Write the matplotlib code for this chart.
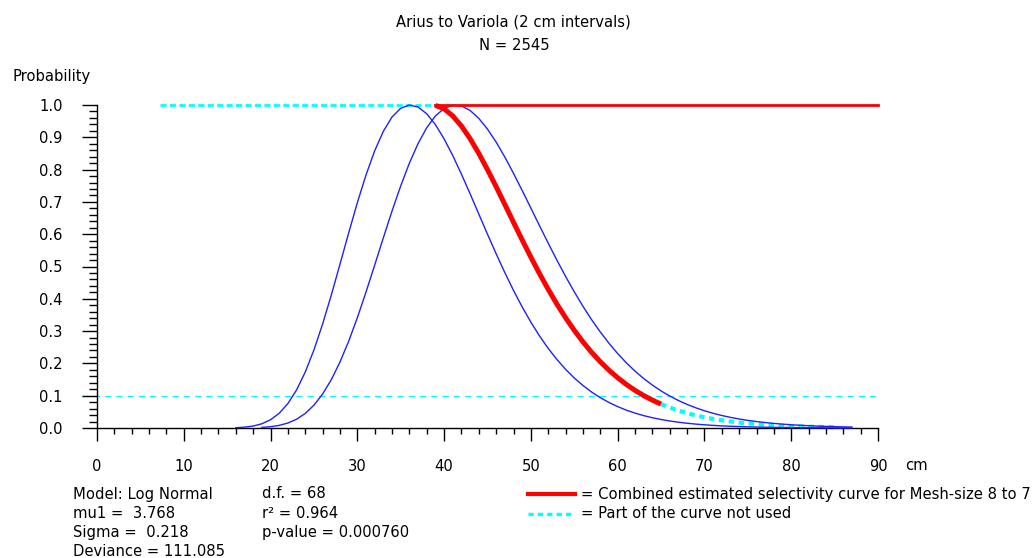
import matplotlib
matplotlib.use("Agg")
import matplotlib.pyplot as plt
from matplotlib.lines import Line2D
from matplotlib.ticker import MultipleLocator

plt.rcParams["font.family"] = ["DejaVu Sans"]

# mesh-size 7 curve (left bell), lengths 16..87 cm
mesh7_x = list(range(16, 88))
mesh7_y = [0.0009, 0.0026, 0.0061, 0.0131, 0.0255, 0.0456, 0.0757, 0.1179, 0.1733,
           0.2417, 0.3220, 0.4115, 0.5070, 0.6038, 0.6974, 0.7834, 0.8581, 0.9187,
           0.9630, 0.9899, 0.9999, 0.9937, 0.9727, 0.9391, 0.8951, 0.8432, 0.7857,
           0.7248, 0.6623, 0.5999, 0.5392, 0.4809, 0.4257, 0.3746, 0.3276, 0.2848,
           0.2463, 0.2120, 0.1816, 0.1549, 0.1316, 0.1113, 0.0939, 0.0790, 0.0662,
           0.0553, 0.0461, 0.0383, 0.0318, 0.0263, 0.0217, 0.0179, 0.0147, 0.0121,
           0.0099, 0.0081, 0.0066, 0.0054, 0.0044, 0.0036, 0.0029, 0.0024, 0.0019,
           0.0016, 0.0013, 0.0010, 0.0008, 0.0007, 0.0006, 0.0004, 0.0004, 0.0003]

# mesh-size 8 curve (right bell), lengths 19..87 cm
mesh8_x = list(range(19, 88))
mesh8_y = [0.0018, 0.0040, 0.0081, 0.0154, 0.0272, 0.0451, 0.0707, 0.1052, 0.1496,
           0.2042, 0.2685, 0.3414, 0.4209, 0.5042, 0.5890, 0.6719, 0.7496, 0.8201,
           0.8806, 0.9298, 0.9662, 0.9893, 0.9995, 0.9970, 0.9830, 0.9586, 0.9253,
           0.8849, 0.8387, 0.7882, 0.7352, 0.6807, 0.6260, 0.5721, 0.5195, 0.4692,
           0.4216, 0.3768, 0.3352, 0.2972, 0.2622, 0.2305, 0.2017, 0.1761, 0.1532,
           0.1328, 0.1148, 0.0990, 0.0851, 0.0730, 0.0625, 0.0534, 0.0455, 0.0387,
           0.0329, 0.0279, 0.0236, 0.0200, 0.0169, 0.0142, 0.0120, 0.0100, 0.0085,
           0.0071, 0.0059, 0.0050, 0.0042, 0.0035, 0.0029]

# combined selectivity curve, used part (39..65 cm)
combined_x = list(range(39, 66))
combined_y = [0.999, 0.9882, 0.966, 0.9348, 0.8955, 0.85, 0.7998, 0.7468, 0.692,
              0.6366, 0.582, 0.5288, 0.4776, 0.4292, 0.3836, 0.3413, 0.3023, 0.2666,
              0.2341, 0.2051, 0.1789, 0.1556, 0.1348, 0.1165, 0.1004, 0.0863, 0.074]
combined_flat_x = [39, 90]
combined_flat_y = [1.0, 1.0]

# combined selectivity curve, part not used
unused_tail_x = list(range(65, 86))
unused_tail_y = [0.074, 0.0633, 0.054, 0.046, 0.0391, 0.0332, 0.0281, 0.0238, 0.0201,
                 0.0169, 0.0143, 0.012, 0.0101, 0.0084, 0.0071, 0.0059, 0.005, 0.0041,
                 0.0035, 0.0029, 0.0024]
unused_top_x = [7.3, 39]
unused_top_y = [1.0, 1.0]

# 10 % reference line
ref_x = [-1.7, 90]
ref_y = [0.1, 0.1]

x_ticks = list(range(0, 91, 10))
y_ticks = [0.0, 0.1, 0.2, 0.3, 0.4, 0.5, 0.6, 0.7, 0.8, 0.9, 1.0]

W, H = 1034, 558
fig = plt.figure(figsize=(W / 100, H / 100), dpi=100)
ax = fig.add_axes([97 / W, 1 - 428 / H, (878 - 97) / W, (428 - 105) / H])

CYAN = "#00FFFF"
BLUE = "#2020FF"
RED = "#FF0000"

ax.plot(ref_x, ref_y, color=CYAN, lw=0.9, dashes=(5, 4), clip_on=False, zorder=1)
ax.plot(unused_top_x, unused_top_y, color=CYAN, lw=2.0, dashes=(2.2, 1.2),
        clip_on=False, zorder=2)
ax.plot(mesh7_x, mesh7_y, color=BLUE, lw=1.0, clip_on=False, zorder=3)
ax.plot(mesh8_x, mesh8_y, color=BLUE, lw=1.0, clip_on=False, zorder=3)
ax.plot(combined_flat_x, combined_flat_y, color=RED, lw=2.0, clip_on=False, zorder=4)
ax.plot(combined_x, combined_y, color=RED, lw=3.6, clip_on=False, zorder=4,
        solid_capstyle="butt")
ax.plot(unused_tail_x, unused_tail_y, color=CYAN, lw=3.0, dashes=(1.3, 1.1),
        clip_on=False, zorder=2)

ax.set_xlim(0, 90)
ax.set_ylim(0, 1)
ax.set_xticks(x_ticks)
ax.set_yticks(y_ticks)
ax.set_yticklabels([f"{v:.1f}" for v in y_ticks])
ax.xaxis.set_minor_locator(MultipleLocator(2))
ax.yaxis.set_minor_locator(MultipleLocator(0.02))

for side in ("top", "right"):
    ax.spines[side].set_visible(False)
for side in ("left", "bottom"):
    ax.spines[side].set_linewidth(1.0)
    ax.spines[side].set_color("black")

fs = 10.6
ax.tick_params(axis="x", which="major", direction="out", length=9.5, width=1.0,
               pad=12.5, labelsize=fs)
ax.tick_params(axis="x", which="minor", direction="out", length=4.5, width=1.0)
ax.tick_params(axis="y", which="major", direction="out", length=10.8, width=1.0,
               pad=14, labelsize=fs)
ax.tick_params(axis="y", which="minor", direction="out", length=6, width=1.0)


def ftext(x, y, s, **kw):
    fig.text(x / W, 1 - y / H, s, fontsize=fs, va="center", **kw)


ftext(513, 22, "Arius to Variola (2 cm intervals)", ha="center")
ftext(514, 46, "N = 2545", ha="center")
ftext(12, 77, "Probability", ha="left")
ftext(905, 465, "cm", ha="left")

left_col = ["Model: Log Normal", "mu1 =  3.768", "Sigma =  0.218", "Deviance = 111.085"]
right_col = ["d.f. = 68", "r\u00b2 = 0.964", "p-value = 0.000760"]
rows_y = [494, 514, 533, 552]
for s, y in zip(left_col, rows_y):
    ftext(73, y, s, ha="left")
for s, y in zip(right_col, rows_y):
    ftext(262, y, s, ha="left")

# legend
fig.add_artist(Line2D([528 / W, 575 / W], [1 - 494 / H, 1 - 494 / H], color=RED,
                      lw=3.0, transform=fig.transFigure))
fig.add_artist(Line2D([528 / W, 573 / W], [1 - 514 / H, 1 - 514 / H], color=CYAN,
                      lw=2.5, dashes=(1.5, 1.2), transform=fig.transFigure))
ftext(581, 494, "= Combined estimated selectivity curve for Mesh-size 8 to 7", ha="left")
ftext(581, 514, "= Part of the curve not used", ha="left")

fig.savefig("out.png", dpi=100)
